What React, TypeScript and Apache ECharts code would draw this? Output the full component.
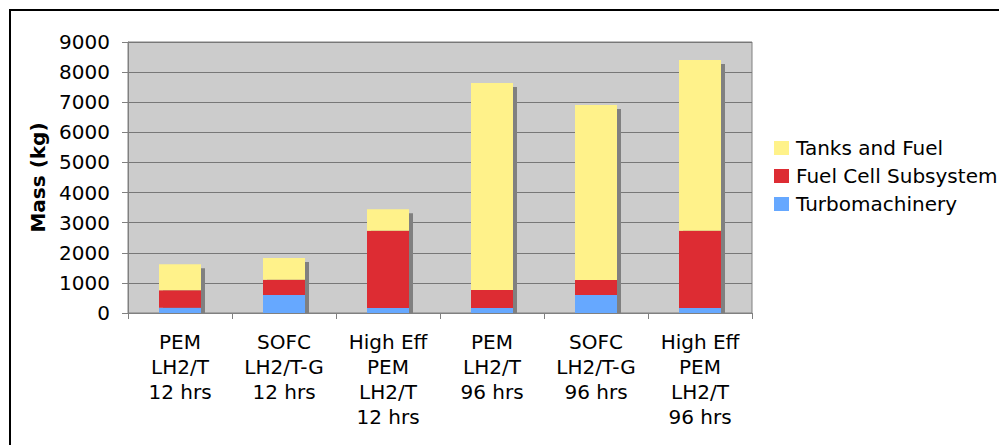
import React, { useEffect, useRef } from "react";
import * as echarts from "echarts";

const categories = [
  "PEM\nLH2/T\n12 hrs",
  "SOFC\nLH2/T-G\n12 hrs",
  "High Eff\nPEM\nLH2/T\n12 hrs",
  "PEM\nLH2/T\n96 hrs",
  "SOFC\nLH2/T-G\n96 hrs",
  "High Eff\nPEM\nLH2/T\n96 hrs",
];
const turbomachinery = [175, 600, 170, 170, 600, 170];
const fuelCellSubsystem = [580, 505, 2565, 590, 500, 2565];
const tanksAndFuel = [860, 720, 710, 6880, 5810, 5670];
const yTicks = { min: 0, max: 9000, interval: 1000 };

const FONT = "DejaVu Sans";
const FS = 20;

export default function App() {
  const ref = useRef<HTMLDivElement>(null);
  useEffect(() => {
    if (!ref.current) return;
    const chart = echarts.init(ref.current, undefined, { renderer: "svg" });
    const totals = categories.map(
      (_, i) => turbomachinery[i] + fuelCellSubsystem[i] + tanksAndFuel[i]
    );
    const barWidth = 42;
    chart.setOption({
      animation: false,
      backgroundColor: "#ffffff",
      textStyle: { fontFamily: FONT, color: "#000" },
      graphic: [
        {
          type: "rect",
          shape: { x: 10, y: 10, width: 1100, height: 600 },
          style: { fill: "none", stroke: "#000", lineWidth: 2 },
          z: 100,
          silent: true,
        },
      ],
      grid: {
        left: 128,
        top: 42,
        right: 247,
        bottom: 132,
        show: true,
        backgroundColor: "#cccccc",
        borderColor: "#808080",
        borderWidth: 1,
      },
      legend: {
        orient: "vertical",
        left: 774,
        top: 138,
        padding: 0,
        itemWidth: 15,
        itemHeight: 14,
        itemGap: 8,
        icon: "rect",
        data: ["Tanks and Fuel", "Fuel Cell Subsystem", "Turbomachinery"],
        textStyle: { fontFamily: FONT, fontSize: FS, color: "#000", padding: [0, 0, 0, 2] },
      },
      xAxis: {
        type: "category",
        data: categories,
        boundaryGap: true,
        axisLine: { show: true, lineStyle: { color: "#808080", width: 1 } },
        axisTick: { show: true, length: 6, lineStyle: { color: "#808080" } },
        axisLabel: {
          interval: 0,
          margin: 16,
          fontFamily: FONT,
          fontSize: FS,
          lineHeight: 25,
          color: "#000",
          align: "center",
        },
        splitLine: { show: false },
      },
      yAxis: {
        type: "value",
        min: yTicks.min,
        max: yTicks.max,
        interval: yTicks.interval,
        name: "Mass (kg)",
        nameLocation: "middle",
        nameRotate: 90,
        nameGap: 77,
        nameTextStyle: { fontFamily: FONT, fontSize: FS, fontWeight: "bold", color: "#000" },
        axisLine: { show: true, lineStyle: { color: "#808080", width: 1 } },
        axisTick: { show: true, length: 6, lineStyle: { color: "#808080" } },
        axisLabel: {
          margin: 18,
          fontFamily: FONT,
          fontSize: FS,
          color: "#000",
          formatter: (v: number) => String(v),
        },
        splitLine: { show: true, lineStyle: { color: "#777777", width: 1 } },
      },
      series: [
        {
          type: "custom",
          name: "shadow",
          z: 1,
          silent: true,
          data: totals.map((t, i) => [i, t]),
          renderItem: (params: any, api: any) => {
            const top = api.coord([api.value(0), api.value(1)]);
            const bottom = api.coord([api.value(0), 0]);
            return {
              type: "rect",
              shape: {
                x: top[0] - barWidth / 2 + 4,
                y: top[1] + 4,
                width: barWidth,
                height: bottom[1] - top[1] - 4,
              },
              style: { fill: "#808080" },
            };
          },
        },
        {
          type: "bar",
          name: "Turbomachinery",
          stack: "total",
          z: 2,
          barWidth,
          data: turbomachinery,
          itemStyle: { color: "#66A8FF" },
        },
        {
          type: "bar",
          name: "Fuel Cell Subsystem",
          stack: "total",
          z: 2,
          barWidth,
          data: fuelCellSubsystem,
          itemStyle: { color: "#DD2C33" },
        },
        {
          type: "bar",
          name: "Tanks and Fuel",
          stack: "total",
          z: 2,
          barWidth,
          data: tanksAndFuel,
          itemStyle: { color: "#FFF28A" },
        },
      ],
    });
    return () => chart.dispose();
  }, []);
  return (
    <div
      ref={ref}
      style={{ position: "absolute", left: 0, top: 0, width: 999, height: 445 }}
    />
  );
}
